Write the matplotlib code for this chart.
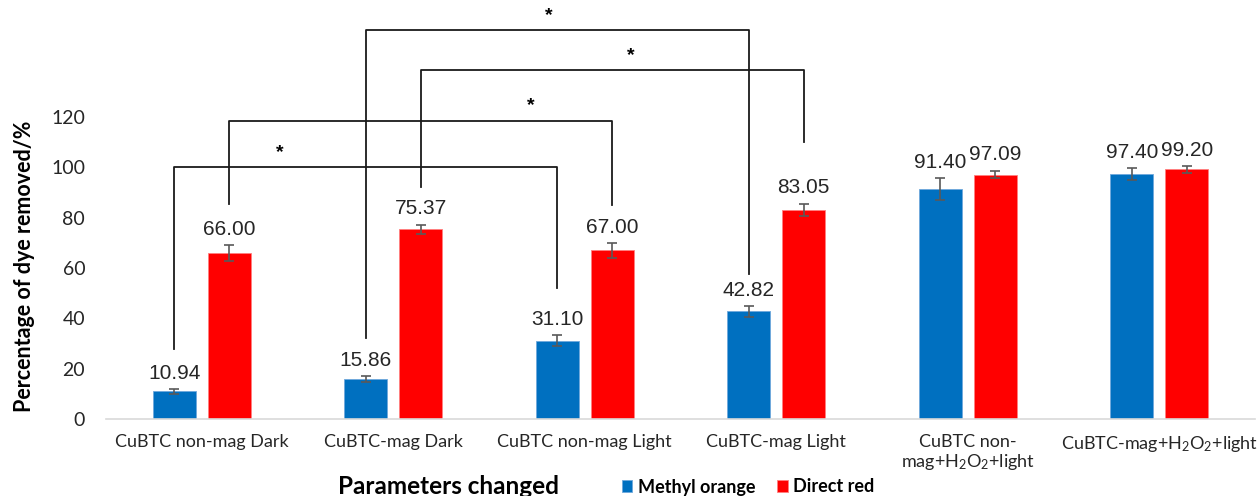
import matplotlib as mpl
mpl.use('Agg')
import matplotlib.pyplot as plt
import numpy as np

plt.rcParams['font.family'] = ['Lato', 'DejaVu Sans']
plt.rcParams['mathtext.fontset'] = 'custom'
plt.rcParams['mathtext.rm'] = 'Lato'
plt.rcParams['mathtext.it'] = 'Lato:italic'
plt.rcParams['mathtext.bf'] = 'Lato:bold'

categories = ['CuBTC non-mag Dark', 'CuBTC-mag Dark', 'CuBTC non-mag Light',
              'CuBTC-mag Light', 'CuBTC non-\nmag+H$_2$O$_2$+light',
              'CuBTC-mag+H$_2$O$_2$+light']
methyl_orange = [10.94, 15.86, 31.10, 42.82, 91.40, 97.40]
methyl_err = [1.0, 1.2, 2.1, 2.1, 4.3, 2.3]
direct_red = [66.00, 75.37, 67.00, 83.05, 97.09, 99.20]
direct_err = [3.1, 1.9, 2.9, 2.5, 1.5, 1.3]

# significance brackets: (group, series) left, (group, series) right,
# bar height, left end, right end, star x position (group units)
brackets = [
    ((0, 0), (2, 0), 100, 28, 52, 0.41),
    ((0, 1), (2, 1), 118.5, 85.5, 85, 1.72),
    ((1, 0), (3, 0), 154.5, 32, 57.5, 1.81),
    ((1, 1), (3, 1), 138.5, 92, 110, 2.24),
]

blue = '#0070C0'
red = '#FF0000'
off = 0.1435
w = 0.224

fig = plt.figure(figsize=(12.59, 4.96), dpi=100)
ax = fig.add_axes([106 / 1259, 77 / 496, 1149 / 1259, 302 / 496])

x = np.arange(len(categories))
ax.bar(x - off, methyl_orange, w, color=blue, edgecolor='#6fa8dc', linewidth=0.6,
       yerr=methyl_err, error_kw=dict(ecolor='#595959', elinewidth=1.2, capsize=3.5, capthick=1.2),
       label='Methyl orange')
ax.bar(x + off, direct_red, w, color=red, edgecolor='#ff7f7f', linewidth=0.6,
       yerr=direct_err, error_kw=dict(ecolor='#595959', elinewidth=1.2, capsize=3.5, capthick=1.2),
       label='Direct red')

for xi, v, e in zip(x - off, methyl_orange, methyl_err):
    ax.annotate(f'{v:.2f}', (xi, v + e), xytext=(0, 7.5), textcoords='offset points',
                ha='center', va='baseline', fontsize=15, family='Liberation Sans', color='#262626')
for xi, v, e in zip(x + off, direct_red, direct_err):
    ax.annotate(f'{v:.2f}', (xi, v + e), xytext=(0, 7.5), textcoords='offset points',
                ha='center', va='baseline', fontsize=15, family='Liberation Sans', color='#262626')

for (g1, s1), (g2, s2), top, y1, y2, sx in brackets:
    x1 = g1 + (off if s1 else -off)
    x2 = g2 + (off if s2 else -off)
    ax.plot([x1, x1, x2, x2], [y1, top, top, y2], color='#1a1a1a', lw=1.3, clip_on=False)
    ax.text(sx, top + 2.5, '*', ha='center', va='bottom', fontsize=14, fontweight='bold',
            family='Liberation Sans', clip_on=False)

ax.set_xlim(-0.5, len(categories) - 0.5)
ax.set_ylim(0, 120)
ax.set_yticks(np.arange(0, 121, 20))
ax.set_xticks(x)
ax.set_xticklabels(categories, fontsize=13, color='#262626', linespacing=1.1)
ax.tick_params(axis='y', length=0, pad=15, labelsize=14, labelcolor='#262626')
ax.tick_params(axis='x', length=0, pad=11)
for s in ['top', 'right', 'left']:
    ax.spines[s].set_visible(False)
ax.spines['bottom'].set_color('#d9d9d9')
ax.spines['bottom'].set_linewidth(1.2)

fig.text(25 / 1259, 1 - 266 / 496, 'Percentage of dye removed/%', rotation=90,
         ha='center', va='center', fontsize=15.5, fontweight='bold')
fig.text(448 / 1259, 1 - 487 / 496, 'Parameters changed', ha='center', va='center',
         fontsize=17.5, fontweight='bold')
fig.legend(loc='center', bbox_to_anchor=(748 / 1259, 1 - 487 / 496), ncol=2, frameon=False,
           prop=dict(size=13, weight='bold'), handlelength=0.6, handleheight=0.6,
           handletextpad=0.3, columnspacing=1.2, borderaxespad=0, borderpad=0)

fig.savefig('out.png', dpi=100)
